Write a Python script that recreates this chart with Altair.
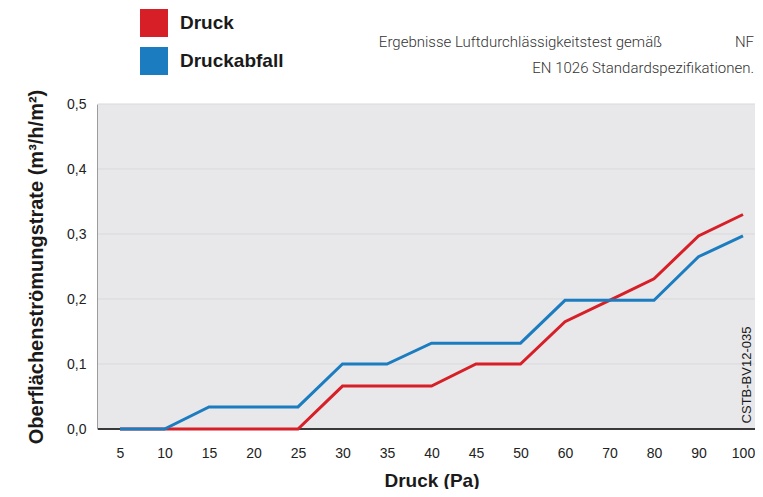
import altair as alt
import pandas as pd

pressure = ["5", "10", "15", "20", "25", "30", "35", "40", "45", "50", "60", "70", "80", "90", "100"]
druck = [0, 0, 0, 0, 0, 0.066, 0.066, 0.066, 0.1, 0.1, 0.165, 0.198, 0.231, 0.297, 0.33]
druckabfall = [0, 0, 0.034, 0.034, 0.034, 0.1, 0.1, 0.132, 0.132, 0.132, 0.198, 0.198, 0.198, 0.265, 0.297]
series = ["Druck", "Druckabfall"]
colors = ["#d71f28", "#1b7dc0"]
y_ticks = [0, 0.1, 0.2, 0.3, 0.4, 0.5]
title_line1 = "Ergebnisse Luftdurchlässigkeitstest gemäß"
title_nf = "NF"
title_line2 = "EN 1026 Standardspezifikationen."
ref_code = "CSTB-BV12-035"

df = pd.DataFrame({"Druck": pressure, "Druck_Serie": druck, "Abfall_Serie": druckabfall})
legend_df = pd.DataFrame({"Legende": series})
grid_df = pd.DataFrame({"g": y_ticks[1:]})

FONT = "Liberation Sans"
W = 657
H = 325
Y_TITLE = "Oberflächenströmungstrate (m³/h/m²)"

y_scale = alt.Scale(domain=[0, 0.5], nice=False, zero=True)
y_axis = alt.Axis(
    title=Y_TITLE,
    values=y_ticks,
    labelExpr="replace(format(datum.value, '.1f'), '.', ',')",
    ticks=False,
    domain=True,
    domainColor="#3a3a3a",
    domainWidth=2,
    grid=False,
    labelPadding=12,
    labelFontSize=14,
    labelFont=FONT,
    labelColor="#222222",
    titleFont=FONT,
    titleFontSize=20,
    titleFontWeight="bold",
    titleColor="#1a1a1a",
    titlePadding=20,
)

x_enc = alt.X(
    "Druck:O",
    sort=pressure,
    scale=alt.Scale(type="point", range=[22, 645], padding=0),
    axis=alt.Axis(
        title="Druck (Pa)",
        labelAngle=0,
        ticks=False,
        domain=False,
        grid=False,
        labelPadding=17,
        labelFontSize=14,
        labelFont=FONT,
        labelColor="#222222",
        titleFont=FONT,
        titleFontSize=19,
        titleFontWeight="bold",
        titleColor="#1a1a1a",
        titlePadding=11,
    ),
)

# plot background
bg = alt.Chart(legend_df).mark_rect(color="#e8e8ea").encode(
    x=alt.value(0), x2=alt.value(W), y=alt.value(0), y2=alt.value(H)
)

grid = alt.Chart(grid_df).mark_rule(color="#d9d9dd", strokeWidth=1).encode(
    y=alt.Y("g:Q", scale=y_scale, axis=y_axis, title=Y_TITLE)
)

base_line = alt.Chart(legend_df).mark_rule(color="#3a3a3a", strokeWidth=2).encode(
    y=alt.datum(0)
)

line_druck = alt.Chart(df).mark_line(strokeWidth=3, color=colors[0]).encode(
    x=x_enc,
    y=alt.Y("Druck_Serie:Q", scale=y_scale, axis=y_axis, title=Y_TITLE),
)
line_abfall = alt.Chart(df).mark_line(strokeWidth=3, color=colors[1]).encode(
    x=x_enc,
    y=alt.Y("Abfall_Serie:Q", scale=y_scale, axis=y_axis, title=Y_TITLE),
)

# hidden squares (placed off-canvas) that only carry the legend
legend_layer = alt.Chart(legend_df).mark_square(filled=True, size=100).encode(
    x=alt.value(-2000),
    y=alt.value(-2000),
    color=alt.Color(
        "Legende:N",
        scale=alt.Scale(domain=series, range=colors),
        legend=alt.Legend(
            title=None,
            orient="none",
            legendX=42,
            legendY=-95,
            symbolType="square",
            symbolSize=784,
            symbolStrokeWidth=0,
            symbolOpacity=1,
            labelFontSize=19,
            labelFontWeight="bold",
            labelFont=FONT,
            labelColor="#1a1a1a",
            labelOffset=12,
            rowPadding=10,
            padding=0,
        ),
    ),
)

tdf1 = pd.DataFrame({"t": [title_line1]})
tdf2 = pd.DataFrame({"t": [title_nf]})
tdf3 = pd.DataFrame({"t": [title_line2]})
tdf4 = pd.DataFrame({"t": [ref_code]})

tstyle = dict(baseline="middle", font="Roboto", fontWeight=300, fontSize=15, color="#333333")
t1 = alt.Chart(tdf1).mark_text(align="right", **tstyle).encode(
    text="t:N", x=alt.value(564), y=alt.value(-62))
t2 = alt.Chart(tdf2).mark_text(align="right", **tstyle).encode(
    text="t:N", x=alt.value(656), y=alt.value(-62))
t3 = alt.Chart(tdf3).mark_text(align="right", **tstyle).encode(
    text="t:N", x=alt.value(656), y=alt.value(-36))
t4 = alt.Chart(tdf4).mark_text(align="center", baseline="middle", angle=270, font=FONT, fontSize=13, color="#1a1a1a").encode(
    text="t:N", x=alt.value(649), y=alt.value(271))

chart = alt.layer(bg, grid, base_line, line_druck, line_abfall, legend_layer, t1, t2, t3, t4).properties(
    width=W,
    height=H,
    autosize=alt.AutoSizeParams(type="none"),
    padding={"left": 90, "top": 96, "right": 0, "bottom": 60},
).configure(
    background="white",
    view=alt.ViewConfig(stroke="transparent", strokeWidth=0),
)

chart.save("out.html", embed_options={"renderer": "svg", "actions": False})
